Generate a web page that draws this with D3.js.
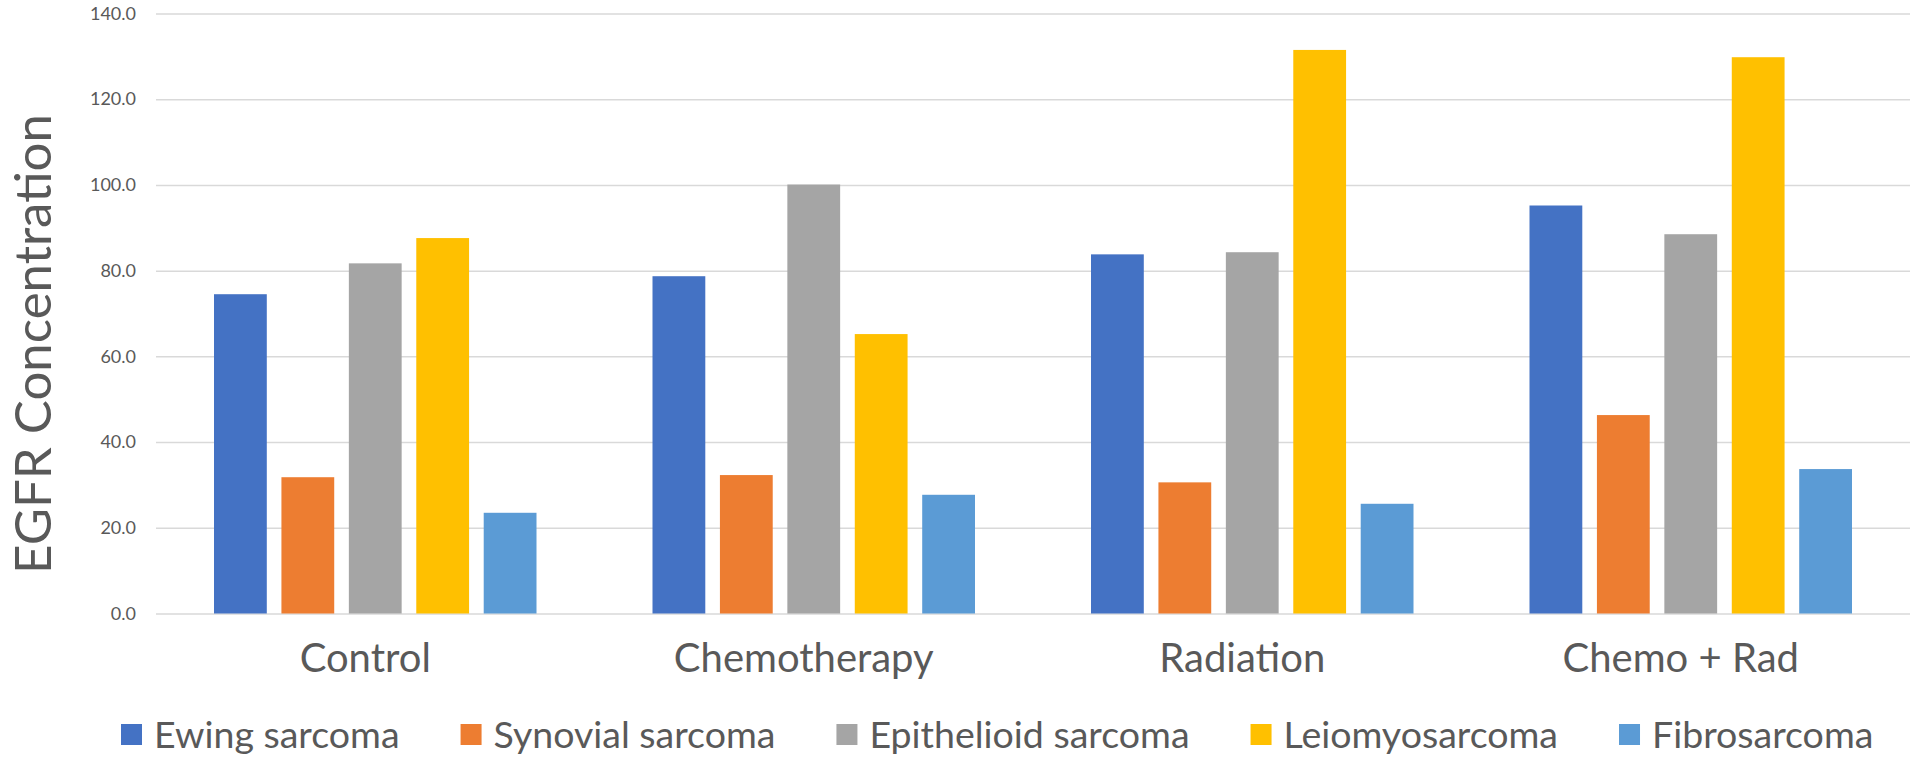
<!DOCTYPE html>
<html>
<head>
<meta charset="utf-8">
<script src="https://cdn.jsdelivr.net/npm/d3@7"></script>
<style>
  body { margin: 0; background: #fff; }
  text { font-family: Lato, "Open Sans", sans-serif; fill: #595959; }
</style>
</head>
<body>
<div id="chart"></div>
<script>
const width = 1920;
const height = 759;

// data
const treatments = ["Control", "Chemotherapy", "Radiation", "Chemo + Rad"];
const sarcomas = ["Ewing sarcoma", "Synovial sarcoma", "Epithelioid sarcoma", "Leiomyosarcoma", "Fibrosarcoma"];
const ewing = [74.5, 78.7, 83.8, 95.2];
const synovial = [31.8, 32.3, 30.6, 46.3];
const epithelioid = [81.7, 100.1, 84.3, 88.5];
const leiomyo = [87.6, 65.2, 131.5, 129.8];
const fibro = [23.5, 27.7, 25.6, 33.7];
const yTicks = [0, 20, 40, 60, 80, 100, 120, 140];
const colors = ["#4472C4", "#ED7D31", "#A5A5A5", "#FFC000", "#5B9BD5"];

const seriesValues = [ewing, synovial, epithelioid, leiomyo, fibro];

const margin = { top: 13, right: 10, bottom: 145, left: 156 };

const svg = d3
  .select("#chart")
  .append("svg")
  .attr("width", width)
  .attr("height", height);

const x0 = d3
  .scaleBand()
  .domain(treatments)
  .range([margin.left, width - margin.right]);

const x1 = d3
  .scaleBand()
  .domain(sarcomas)
  .range([58, x0.bandwidth() - 58])
  .paddingInner(0.217);

const y = d3
  .scaleLinear()
  .domain([0, 140])
  .range([height - margin.bottom - 0.5, margin.top + 0.5]);

const color = d3.scaleOrdinal().domain(sarcomas).range(colors);

// gridlines + tick labels
const yAxis = svg
  .append("g")
  .attr("transform", `translate(${margin.left},0)`)
  .call(
    d3
      .axisLeft(y)
      .tickValues(yTicks)
      .tickFormat(d3.format(".1f"))
      .tickSize(-(width - margin.left - margin.right))
      .tickPadding(20)
  );
yAxis.select(".domain").remove();
yAxis.selectAll(".tick line").attr("stroke", "#D9D9D9").attr("stroke-width", 1.5);
yAxis
  .selectAll(".tick text")
  .style("font-size", "18px")
  .style("font-family", "Lato, sans-serif")
  .attr("fill", "#595959");

// bars
const groups = svg
  .selectAll(".group")
  .data(treatments)
  .enter()
  .append("g")
  .attr("class", "group")
  .attr("transform", (d) => `translate(${x0(d)},0)`);

groups
  .selectAll("rect")
  .data((t, i) => sarcomas.map((s, j) => ({ key: s, value: seriesValues[j][i] })))
  .enter()
  .append("rect")
  .attr("x", (d) => x1(d.key))
  .attr("width", x1.bandwidth())
  .attr("y", (d) => y(d.value))
  .attr("height", (d) => y(0) - y(d.value))
  .attr("fill", (d) => color(d.key));

// category labels (Excel puts them slightly left of centre)
svg
  .selectAll(".cat")
  .data(treatments)
  .enter()
  .append("text")
  .attr("class", "cat")
  .attr("x", (d) => x0(d) + x0.bandwidth() / 2 - 10)
  .attr("y", 672)
  .attr("text-anchor", "middle")
  .style("font-size", "40px")
  .text((d) => d);

// y axis title
svg
  .append("text")
  .attr("transform", `translate(51, ${344}) rotate(-90)`)
  .attr("text-anchor", "middle")
  .style("font-size", "51px")
  .text("EGFR Concentration");

// legend
const legend = svg.append("g").attr("transform", "translate(121, 735)");
let lx = 0;
sarcomas.forEach((s) => {
  const item = legend.append("g").attr("transform", `translate(${lx},0)`);
  item
    .append("rect")
    .attr("x", 0)
    .attr("y", -11)
    .attr("width", 21)
    .attr("height", 21)
    .attr("fill", color(s));
  const t = item
    .append("text")
    .attr("x", 33)
    .attr("y", 13)
    .style("font-size", "37.5px")
    .text(s);
  lx += 33 + t.node().getComputedTextLength() + 61;
});
</script>
</body>
</html>
